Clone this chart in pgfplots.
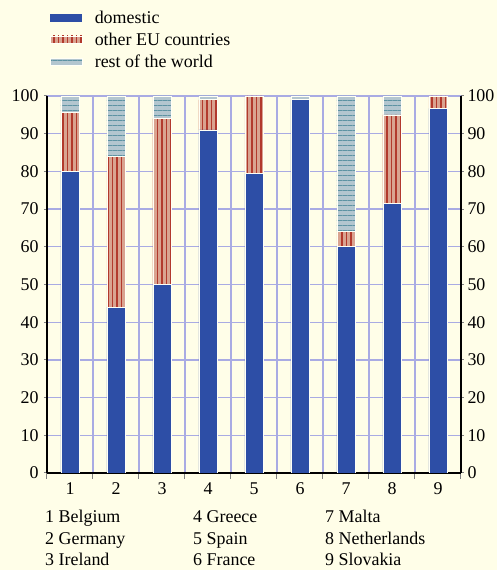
\documentclass[border=0pt]{standalone}
\usepackage{fontspec}
\setmainfont{Liberation Serif}
\usepackage{pgfplots}
\pgfplotsset{compat=1.18}
\usetikzlibrary{patterns.meta}
\definecolor{bgcol}{HTML}{FFFEE8}
\definecolor{gridcol}{HTML}{A9ABE3}
\definecolor{domcol}{HTML}{2D4EA6}
\definecolor{eufill}{HTML}{D9A390}
\definecolor{eured}{HTML}{B2392C}
\definecolor{rwfill}{HTML}{B3C6CF}
\definecolor{rwline}{HTML}{5D93A3}
\newcommand{\lblfont}{\fontsize{18}{21}\selectfont}
\begin{document}
\begin{tikzpicture}
\useasboundingbox (0,0) rectangle (497bp,570bp);
\fill[bgcol] (0,0) rectangle (497bp,570bp);
\begin{axis}[
  at={(47bp,97bp)}, anchor=south west, scale only axis,
  width=414bp, height=377bp,
  xmin=0.5, xmax=9.5, ymin=0, ymax=100,
  axis lines*=left,
  axis line style={black, line width=1.2bp},
  xtick={1,...,9},
  minor xtick={0.5,1.5,...,9.5},
  xminorgrids, ymajorgrids,
  minor grid style={draw=gridcol, line width=1.1bp},
  major grid style={draw=gridcol, line width=1.3bp},
  ytick={0,10,...,100},
  tick align=outside,
  major tick length=3bp, minor tick length=6bp,
  major x tick style={draw=none},
  minor tick style={line width=1bp},
  major y tick style={line width=1bp},
  ticklabel style={font=\lblfont},
  /pgf/number format/assume math mode=true,
  yticklabel style={xshift=-2bp},
  xticklabel style={yshift=-3bp},
  ybar stacked, bar width=18bp,
  legend image code/.code={\path[#1, draw=none] (0bp,-3.8bp) rectangle (32bp,3.8bp);},
  legend style={at={(axis description cs:0.0,1.237)}, anchor=north west,
    draw=none, fill=none, font=\lblfont, row sep=4bp,
    /tikz/every odd column/.append style={column sep=10bp}},
  legend cell align=left,
]
\addplot[fill=domcol, draw=white!60!bgcol, line width=0.6bp]
  coordinates {(1,80) (2,44) (3,50) (4,91) (5,79.5) (6,99) (7,60) (8,71.5) (9,96.7)};
\addplot[fill=eufill, draw=white!60!bgcol, line width=0.6bp,
  postaction={pattern={Lines[angle=90,distance=4.5bp,line width=1.3bp]}, pattern color=eured}]
  coordinates {(1,15.7) (2,40) (3,44) (4,8) (5,20.5) (6,0) (7,4) (8,23.5) (9,3.3)};
\addplot[fill=rwfill, draw=white!60!bgcol, line width=0.6bp,
  postaction={pattern={Lines[angle=0,distance=5bp,line width=0.9bp]}, pattern color=rwline}]
  coordinates {(1,4.3) (2,16) (3,6) (4,1) (5,0) (6,1) (7,36) (8,5) (9,0)};
\legend{domestic, other EU countries, rest of the world}
\end{axis}
\begin{axis}[
  at={(47bp,97bp)}, anchor=south west, scale only axis,
  width=414bp, height=377bp,
  xmin=0.5, xmax=9.5, ymin=0, ymax=100,
  axis y line*=right, axis x line=none,
  axis line style={black, line width=1.2bp},
  ytick={0,10,...,100},
  tick align=outside, major tick length=3bp,
  major y tick style={line width=1bp},
  ticklabel style={font=\lblfont},
  /pgf/number format/assume math mode=true,
  yticklabel style={xshift=0bp},
]
\addplot[draw=none] coordinates {(1,0) (2,0)};
\end{axis}
\begin{scope}[every node/.style={anchor=base west, font=\lblfont, inner sep=0pt}]
\node at (45bp,47bp) {1 Belgium};
\node at (45bp,26bp) {2 Germany};
\node at (45bp,5bp) {3 Ireland};
\node at (193bp,47bp) {4 Greece};
\node at (193bp,26bp) {5 Spain};
\node at (193bp,5bp) {6 France};
\node at (325bp,47bp) {7 Malta};
\node at (325bp,26bp) {8 Netherlands};
\node at (325bp,5bp) {9 Slovakia};
\end{scope}
\end{tikzpicture}
\end{document}
